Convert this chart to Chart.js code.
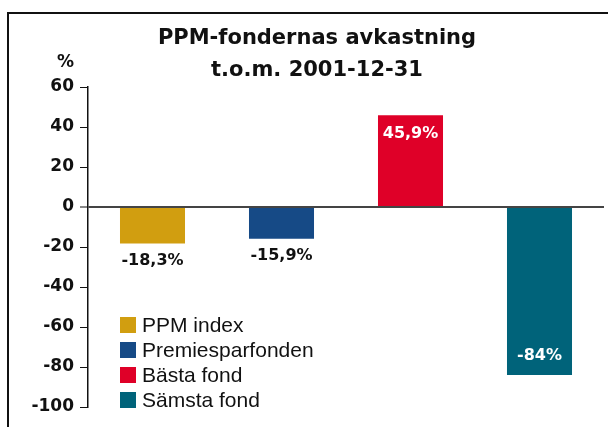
<!DOCTYPE html>
<html>
<head>
<meta charset="utf-8">
<script src="https://cdn.jsdelivr.net/npm/chart.js@4"></script>
<style>
  body { margin: 0; background: #fff; }
  canvas { display: block; }
</style>
</head>
<body>
<canvas id="ppmChart" width="608" height="427"></canvas>
<script>
const categories = ['PPM index', 'Premiesparfonden', 'Bästa fond', 'Sämsta fond'];
const returns = [-18.3, -15.9, 45.9, -84];
const barColors = ['#D19E10', '#164A86', '#DF0028', '#00637A'];
const titleLines = ['PPM-fondernas avkastning', 't.o.m. 2001-12-31'];
const unitLabel = '%';
const yMin = -100;
const yMax = 60;
const yStep = 20;

const fmtPct = (v) => v.toString().replace('.', ',') + '%';

// outer frame (left + top edge) like the original clip
const framePlugin = {
  id: 'frame',
  beforeDraw: (chart) => {
    const ctx = chart.ctx;
    ctx.save();
    ctx.strokeStyle = '#111';
    ctx.lineWidth = 2;
    ctx.beginPath();
    ctx.moveTo(8, chart.height);
    ctx.lineTo(8, 13);
    ctx.lineTo(chart.width, 13);
    ctx.stroke();
    ctx.restore();
  }
};

// value labels: inside the bar for the long ones, under it for the short ones
const valueLabels = {
  id: 'valueLabels',
  afterDatasetsDraw: (chart) => {
    const ctx = chart.ctx;
    const meta = chart.getDatasetMeta(0);
    ctx.save();
    ctx.font = 'bold 16px "DejaVu Sans"';
    ctx.textAlign = 'center';
    ctx.textBaseline = 'middle';
    meta.data.forEach((bar, i) => {
      const v = returns[i];
      const inside = Math.abs(v) > 30;
      const dir = v < 0 ? 1 : -1;
      let y;
      if (inside) {
        ctx.fillStyle = '#fff';
        y = bar.y - dir * 19;
      } else {
        ctx.fillStyle = '#111';
        y = bar.y + dir * 17;
      }
      ctx.fillText(fmtPct(v), bar.x, y);
    });
    ctx.restore();
  }
};

// "%" above the y axis + legend in the lower left corner of the plot
const extrasPlugin = {
  id: 'extras',
  afterDraw: (chart) => {
    const ctx = chart.ctx;
    const area = chart.chartArea;
    const yScale = chart.scales.y;
    ctx.save();
    ctx.fillStyle = '#111';
    ctx.font = 'bold 17px "DejaVu Sans"';
    ctx.textAlign = 'right';
    ctx.textBaseline = 'middle';
    ctx.fillText(unitLabel, yScale.right - 14, area.top - 24);

    ctx.font = '21px "Liberation Sans"';
    ctx.textAlign = 'left';
    const x0 = area.left + 32;
    const y0 = area.bottom - 82;
    categories.forEach((c, i) => {
      const cy = y0 + i * 25;
      ctx.fillStyle = barColors[i];
      ctx.fillRect(x0, cy - 8, 16, 16);
      ctx.fillStyle = '#111';
      ctx.fillText(c, x0 + 22, cy + 1);
    });
    ctx.restore();
  }
};

const renderChart = () => {
  const ctx = document.getElementById('ppmChart').getContext('2d');
  new Chart(ctx, {
    type: 'bar',
    data: {
      labels: categories,
      datasets: [{
        data: returns,
        backgroundColor: barColors,
        borderWidth: 0,
        categoryPercentage: 1,
        barPercentage: 0.504
      }]
    },
    options: {
      responsive: false,
      animation: false,
      layout: { padding: { left: 30, right: 4, top: 0, bottom: 20 } },
      plugins: {
        legend: { display: false },
        tooltip: { enabled: false },
        title: {
          display: true,
          text: titleLines,
          color: '#111',
          font: { family: 'DejaVu Sans', size: 21, weight: 'bold', lineHeight: 1.524 },
          padding: { top: 23, bottom: 0 }
        }
      },
      scales: {
        x: { display: false },
        y: {
          min: yMin,
          max: yMax,
          afterFit: (scale) => { scale.width = 58; },
          ticks: {
            stepSize: yStep,
            padding: 6,
            color: '#111',
            font: { family: 'DejaVu Sans', size: 17, weight: 'bold' }
          },
          grid: {
            drawOnChartArea: true,
            tickLength: 8,
            tickColor: '#111',
            tickWidth: 1,
            color: (c) => c.tick && c.tick.value === 0 ? '#444' : 'rgba(0,0,0,0)',
            lineWidth: (c) => c.tick && c.tick.value === 0 ? 2 : 1
          },
          border: { display: true, color: '#111', width: 1.5 }
        }
      }
    },
    plugins: [framePlugin, valueLabels, extrasPlugin]
  });
}

renderChart();
</script>
</body>
</html>
